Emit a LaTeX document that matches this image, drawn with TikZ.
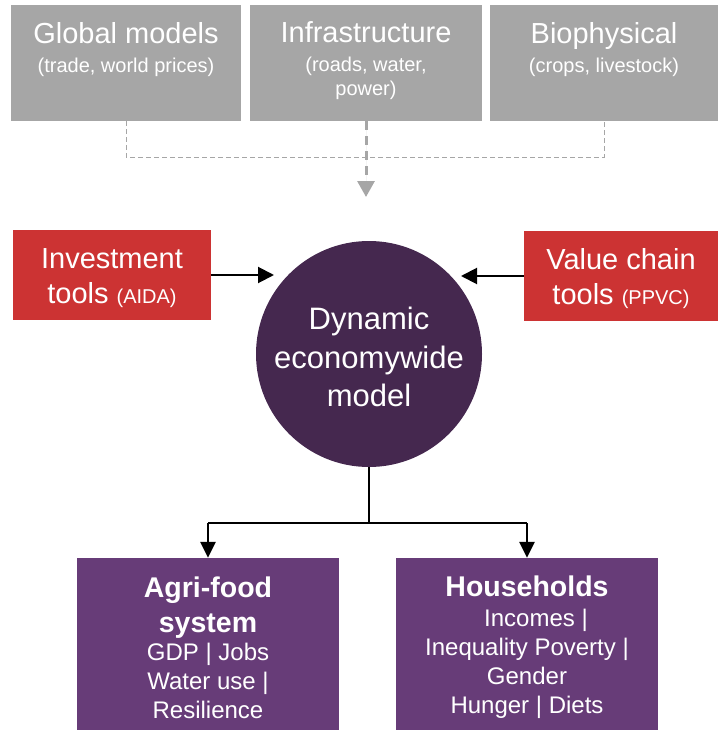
\documentclass[tikz,border=0pt]{standalone}
\usepackage{fontspec}
\setmainfont{Liberation Sans}
\usetikzlibrary{positioning,arrows.meta}
\definecolor{inputgrey}{HTML}{A6A6A6}
\definecolor{toolred}{HTML}{CC3333}
\definecolor{modelpurple}{HTML}{45284F}
\definecolor{outpurple}{HTML}{673C78}
\newcommand{\subtxt}[1]{{\fontsize{20}{24}\selectfont #1}}
\newcommand{\headtxt}[1]{{\fontsize{28.5}{29}\selectfont\bfseries #1}}
\begin{document}
\begin{tikzpicture}[x=1pt,y=-1pt,
    inbox/.style={fill=inputgrey,minimum height=116pt,inner sep=0pt},
    intext/.style={text=white,align=center,inner sep=0pt,font=\fontsize{29}{24}\selectfont},
    toolbox/.style={fill=toolred,text=white,align=center,minimum height=90pt,inner sep=0pt,font=\fontsize{29}{35}\selectfont},
    outbox/.style={fill=outpurple,text=white,align=center,minimum width=262pt,minimum height=172pt,inner sep=0pt,font=\fontsize{24}{29}\selectfont},
    feed/.style={draw=inputgrey,line width=1pt,dash pattern=on 5pt off 3pt},
    feedarr/.style={draw=inputgrey,fill=inputgrey,line width=3pt,dash pattern=on 9pt off 6pt,-{Triangle[length=16pt,width=17pt]}},
    arr/.style={line width=2pt,-{Triangle[length=16pt,width=16pt]}},
    downarr/.style={line width=2.6pt,-{Triangle[length=16pt,width=15pt]}}]
        \useasboundingbox (0,0) rectangle (718,730);
        %% Input models
        \node[inbox,minimum width=230pt] (glob) at (126,63) {};
        \node[inbox,minimum width=232pt] (infra) at (366,63) {};
        \node[inbox,minimum width=228pt] (bio) at (604,63) {};
        \node[intext,below=17pt of glob.north] (globtxt) {Global models\\[5pt]\subtxt{(trade, world prices)}};
        \node[intext,below=17pt of infra.north] (infratxt) {Infrastructure\\[5pt]\subtxt{(roads, water,}\\\subtxt{power)}};
        \node[intext,below=17pt of bio.north] (biotxt) {Biophysical\\[5pt]\subtxt{(crops, livestock)}};
        %% Model
        \node[circle,fill=modelpurple,minimum size=226pt,inner sep=0pt,text=white,align=center,font=\fontsize{31}{38.5}\selectfont] (eco) at (369,354) {\rule{0pt}{29pt}Dynamic\\economywide\\model};
        %% Tools
        \node[toolbox,minimum width=198pt] (inv) at (112,275) {\rule{0pt}{27pt}Investment\\tools \subtxt{(AIDA)}};
        \node[toolbox,minimum width=194pt] (vc) at (621,276) {\rule{0pt}{27pt}Value chain\\tools \subtxt{(PPVC)}};
        %% Outcomes
        \node[outbox] (agri) at (208,644) {\rule{0pt}{29pt}\headtxt{Agri-food}\\[6pt]\headtxt{system}\\[-1pt]GDP | Jobs\\Water use |\\Resilience};
        \node[outbox] (hh) at (527,644) {\rule{0pt}{28pt}\headtxt{Households}\\[1pt]\hspace*{18pt}Incomes |\\Inequality Poverty |\\Gender\\Hunger | Diets};
        %% Connectors
        \coordinate (feedtip) at (366,197);
        \coordinate (invtip) at (274,275);
        \coordinate (vctip) at (461,276);
        \coordinate (split) at (369,523);
        \draw[feed] (glob.south) -- ++(0,36) -| (bio.south);
        \draw[feedarr] (infra.south) -- (feedtip);
        \draw[arr] (inv.east) -- (invtip);
        \draw[arr] (vc.west) -- (vctip);
        \draw[line width=1.2pt] (eco.south) -- (split);
        \draw[line width=1.6pt] (split -| agri.north) -- (split -| hh.north);
        \draw[downarr] (split -| agri.north) -- (agri.north);
        \draw[downarr] (split -| hh.north) -- (hh.north);
    \end{tikzpicture}
\end{document}
